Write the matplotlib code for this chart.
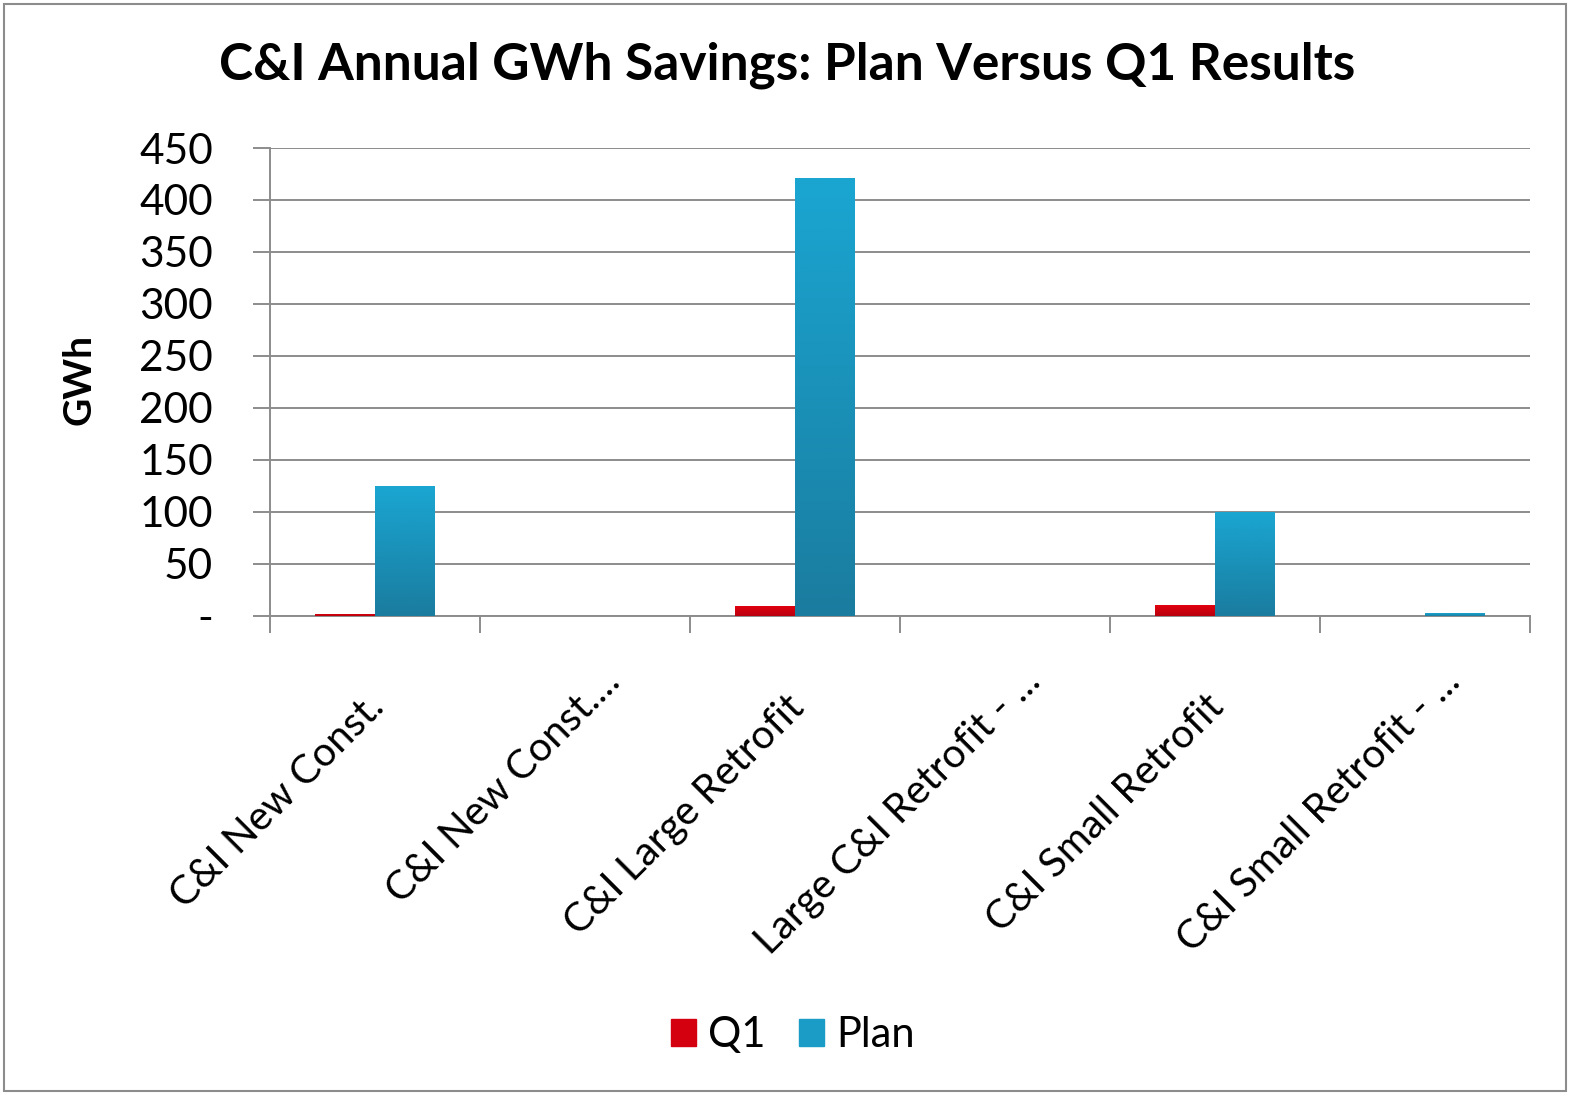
import matplotlib
matplotlib.use("Agg")
import matplotlib.pyplot as plt
import numpy as np
from matplotlib.ticker import FuncFormatter, FixedLocator
from matplotlib.colors import LinearSegmentedColormap
from matplotlib.patches import Rectangle
from matplotlib.transforms import ScaledTranslation

categories = ["C&I New Const.", "C&I New Const....", "C&I Large Retrofit",
              "Large C&I Retrofit - ...", "C&I Small Retrofit", "C&I Small Retrofit - ..."]
q1 = [2, 0, 9, 0, 10.3, 0]
plan = [125, 0, 421.5, 0, 100, 2.5]
series_names = ["Q1", "Plan"]
yticks = [0, 50, 100, 150, 200, 250, 300, 350, 400, 450]

FONT = ["Lato", "DejaVu Sans"]
plt.rcParams['font.family'] = FONT

fig = plt.figure(figsize=(15.7, 10.95), dpi=100)
W, H = 1570, 1095
ax = fig.add_axes([270 / W, 1 - 615.7 / H, (1530 - 270) / W, (615.7 - 148) / H])

x = np.arange(len(categories))
bw = 0.285
b1 = ax.bar(x - bw / 2, q1, bw, color="#d40010", zorder=3)
b2 = ax.bar(x + bw / 2, plan, bw, color="#1a9cc6", zorder=3)

blue_cmap = LinearSegmentedColormap.from_list("b", ["#1a7c9f", "#1aa6d2"])
red_cmap = LinearSegmentedColormap.from_list("r", ["#b8000e", "#e2000f"])
grad = np.linspace(0, 1, 256).reshape(-1, 1)
for bars, cmap in ((b1, red_cmap), (b2, blue_cmap)):
    for r in bars:
        h = r.get_height()
        if h <= 0:
            continue
        x0 = r.get_x()
        w = r.get_width()
        im = ax.imshow(grad, cmap=cmap, origin="lower", aspect="auto",
                       extent=[x0, x0 + w, 0, h], zorder=3.5)
        im.set_clip_path(r)

ax.set_xlim(-0.5, len(categories) - 0.5)
ax.set_ylim(0, 450)
ax.yaxis.set_major_locator(FixedLocator(yticks))
ax.yaxis.set_major_formatter(FuncFormatter(lambda v, p: "-" if v == 0 else f"{int(v)}"))
ax.grid(axis="y", color="#8c8c8c", linewidth=1.4, zorder=0)
ax.set_axisbelow(True)

ax.set_xticks(x)
ax.set_xticklabels(categories, rotation=45, ha="right", va="top", rotation_mode="anchor",
                   fontsize=29, color="#000000")
ax.tick_params(axis="x", length=0, pad=50)
for lab in ax.get_xticklabels():
    dx, dy = -10, -3
    if lab.get_text().endswith("..."):
        dx, dy = dx + 26, dy + 26
    lab.set_transform(lab.get_transform() + ScaledTranslation(dx / 100, dy / 100, fig.dpi_scale_trans))
ax.set_xticks(np.arange(-0.5, len(categories)), minor=True)
ax.tick_params(axis="x", which="minor", length=12, width=1.4, color="#8c8c8c", direction="out")
ax.tick_params(axis="y", length=12, width=1.4, color="#8c8c8c", labelsize=30.5, pad=29)

for s in ("top", "right"):
    ax.spines[s].set_visible(False)
for s in ("left", "bottom"):
    ax.spines[s].set_color("#8c8c8c")
    ax.spines[s].set_linewidth(1.4)

ax.set_ylabel("GWh", fontsize=28, fontweight="bold")
ax.yaxis.set_label_coords(-0.138, 0.504)

fig.text(787 / W, 1 - 65 / H, "C&I Annual GWh Savings: Plan Versus Q1 Results",
         ha="center", va="center", fontsize=37, fontweight="bold")

leg = fig.legend([Rectangle((0, 0), 1, 1, color="#d40010"), Rectangle((0, 0), 1, 1, color="#1a9cc6")],
                 series_names, loc="center", bbox_to_anchor=(793 / W, 1 - 1035 / H),
                 ncol=2, frameon=False, fontsize=30, handlelength=0.6, handleheight=0.6,
                 handletextpad=0.3, columnspacing=0.8)

fig.patches.append(Rectangle((4 / W, 4 / H), (W - 8) / W, (H - 8) / H, transform=fig.transFigure,
                             fill=False, edgecolor="#8c8c8c", linewidth=1.5))

fig.savefig("out.png", dpi=100, facecolor="white")
